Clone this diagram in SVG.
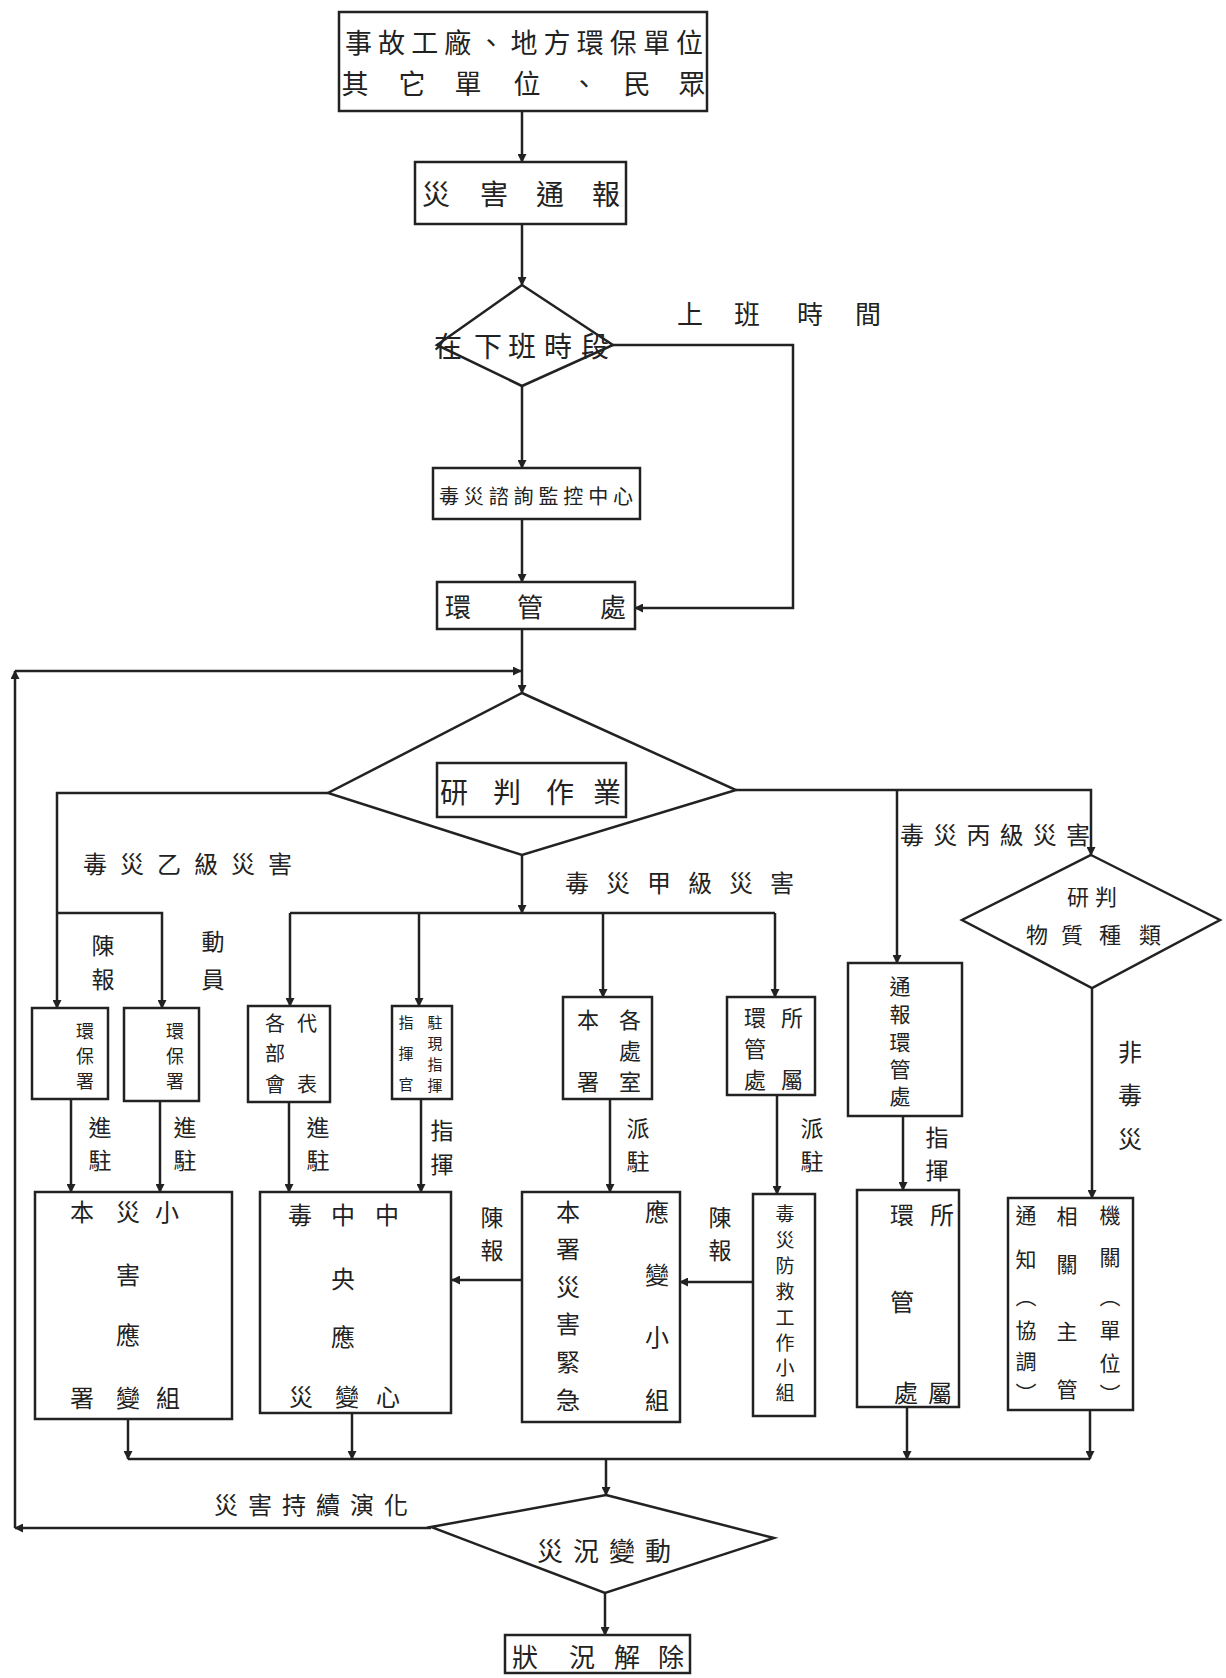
<svg xmlns="http://www.w3.org/2000/svg" width="1226" height="1678" viewBox="0 0 1226 1678">
<style>
.bx{fill:#fff;stroke:#222;stroke-width:2.5}
.ln{fill:none;stroke:#222;stroke-width:2.5}
.ar{fill:none;stroke:#222;stroke-width:2.5;marker-end:url(#ah)}
text{font-family:"Noto Sans CJK TC","Noto Sans CJK SC",sans-serif;fill:#222;dominant-baseline:central;text-anchor:middle}
.f30{font-size:30px}.f28{font-size:28px}.f27{font-size:27px}.f26{font-size:26px}.f24{font-size:24px}.f23{font-size:23px}.f22{font-size:22px}.f21{font-size:21px}.f20{font-size:20px}.f19{font-size:19px}.f18{font-size:18px}.f15{font-size:15px}
</style>
<defs>
<marker id="ah" markerWidth="9" markerHeight="9" refX="8" refY="4.5" orient="auto" markerUnits="userSpaceOnUse"><path d="M0,0 L9,4.5 L0,9 z" fill="#222"/></marker>
</defs>
<rect width="1226" height="1678" fill="#fff"/>

<g id="connectors">
<line class="ar" x1="522" y1="111" x2="522" y2="162"/>
<line class="ar" x1="522" y1="224" x2="522" y2="285"/>
<line class="ar" x1="522" y1="386" x2="522" y2="468"/>
<line class="ar" x1="522" y1="519" x2="522" y2="582"/>
<polyline class="ar" points="613,345 793,345 793,608 635,608"/>
<line class="ar" x1="522" y1="629" x2="522" y2="693"/>
<polyline class="ar" points="431,1528 15,1528"/>
<polyline class="ar" points="15,1528 15,671"/>
<polyline class="ar" points="15,671 521,671"/>
<polyline class="ar" points="328,793 57,793 57,1008"/>
<polyline class="ar" points="57,913 162,913 162,1008"/>
<line class="ar" x1="522" y1="855" x2="522" y2="913"/>
<line class="ln" x1="290" y1="913" x2="775" y2="913"/>
<line class="ar" x1="290" y1="913" x2="290" y2="1006"/>
<line class="ar" x1="419" y1="913" x2="419" y2="1006"/>
<line class="ar" x1="603" y1="913" x2="603" y2="997"/>
<line class="ar" x1="775" y1="913" x2="775" y2="997"/>
<polyline class="ar" points="736,790 1091,790 1091,855"/>
<line class="ar" x1="897" y1="790" x2="897" y2="963"/>
<line class="ar" x1="1092" y1="988" x2="1092" y2="1198"/>
<line class="ar" x1="71" y1="1099" x2="71" y2="1192"/>
<line class="ar" x1="160" y1="1101" x2="160" y2="1192"/>
<line class="ar" x1="289" y1="1102" x2="289" y2="1192"/>
<line class="ar" x1="421" y1="1099" x2="421" y2="1192"/>
<line class="ar" x1="610" y1="1099" x2="610" y2="1192"/>
<line class="ar" x1="777" y1="1095" x2="777" y2="1194"/>
<line class="ar" x1="522" y1="1280" x2="452" y2="1280"/>
<line class="ar" x1="753" y1="1282" x2="680" y2="1282"/>
<line class="ar" x1="903" y1="1116" x2="903" y2="1190"/>
<line class="ar" x1="128" y1="1419" x2="128" y2="1459"/>
<line class="ar" x1="352" y1="1413" x2="352" y2="1459"/>
<line class="ar" x1="907" y1="1407" x2="907" y2="1459"/>
<line class="ar" x1="1090" y1="1410" x2="1090" y2="1459"/>
<line class="ln" x1="128" y1="1459" x2="1090" y2="1459"/>
<line class="ar" x1="606" y1="1459" x2="606" y2="1495"/>
<line class="ar" x1="605" y1="1593" x2="605" y2="1635"/>
</g>

<g id="labels">
<text class="f26" x="690" y="312">上</text><text class="f26" x="747" y="312">班</text><text class="f26" x="810" y="312">時</text><text class="f26" x="868" y="312">間</text>
<text class="f24" x="83" y="862" textLength="209" lengthAdjust="spacing" style="text-anchor:start">毒災乙級災害</text>
<text class="f24" x="565" y="881" textLength="229" lengthAdjust="spacing" style="text-anchor:start">毒災甲級災害</text>
<text class="f24" x="900" y="833" textLength="190" lengthAdjust="spacing" style="text-anchor:start">毒災丙級災害</text>
<text class="f23" x="103" y="944">陳</text><text class="f23" x="103" y="978">報</text>
<text class="f23" x="213" y="940">動</text><text class="f23" x="213" y="978">員</text>
<text class="f23" x="100" y="1126">進</text><text class="f23" x="100" y="1159">駐</text>
<text class="f23" x="185" y="1126">進</text><text class="f23" x="185" y="1159">駐</text>
<text class="f23" x="318" y="1126">進</text><text class="f23" x="318" y="1159">駐</text>
<text class="f23" x="442" y="1129">指</text><text class="f23" x="442" y="1163">揮</text>
<text class="f23" x="638" y="1127">派</text><text class="f23" x="638" y="1160">駐</text>
<text class="f23" x="812" y="1127">派</text><text class="f23" x="812" y="1160">駐</text>
<text class="f23" x="492" y="1216">陳</text><text class="f23" x="492" y="1249">報</text>
<text class="f23" x="720" y="1216">陳</text><text class="f23" x="720" y="1249">報</text>
<text class="f23" x="937" y="1136">指</text><text class="f23" x="937" y="1169">揮</text>
<text class="f24" x="1130" y="1050">非</text><text class="f24" x="1130" y="1093">毒</text><text class="f24" x="1130" y="1137">災</text>
<text class="f24" x="214" y="1503" textLength="194" lengthAdjust="spacing" style="text-anchor:start">災害持續演化</text>
</g>

<g id="n_source">
<rect class="bx" x="339" y="12" width="368" height="99"/>
<text class="f27" x="345" y="41" textLength="358" lengthAdjust="spacing" style="text-anchor:start">事故工廠、地方環保單位</text>
<text class="f27" x="355" y="82">其</text><text class="f27" x="412" y="82">它</text><text class="f27" x="468" y="82">單</text><text class="f27" x="527" y="82">位</text><text class="f27" x="584" y="82">、</text><text class="f27" x="637" y="82">民</text><text class="f27" x="692" y="82">眾</text>
</g>

<g id="n_report">
<rect class="bx" x="415" y="162" width="211" height="62"/>
<text class="f28" x="436" y="193">災</text><text class="f28" x="494" y="193">害</text><text class="f28" x="550" y="193">通</text><text class="f28" x="606" y="193">報</text>
</g>

<g id="n_shift">
<polygon class="bx" points="522,285 613,345 522,386 437,345"/>
<text class="f28" x="448" y="345">在</text><text class="f28" x="488" y="345">下</text><text class="f28" x="522" y="345">班</text><text class="f28" x="558" y="345">時</text><text class="f28" x="595" y="345">段</text>
</g>

<g id="n_monitor">
<rect class="bx" x="433" y="468" width="207" height="51"/>
<text class="f20" x="439" y="495" textLength="194" lengthAdjust="spacing" style="text-anchor:start">毒災諮詢監控中心</text>
</g>

<g id="n_epb">
<rect class="bx" x="437" y="582" width="198" height="47"/>
<text class="f26" x="458" y="605">環</text><text class="f26" x="530" y="605">管</text><text class="f26" x="613" y="605">處</text>
</g>

<g id="n_judge">
<polygon class="bx" points="522,693 736,790 522,855 328,793"/>
<rect class="bx" x="437" y="763" width="189" height="54"/>
<text class="f28" x="454" y="791">研</text><text class="f28" x="507" y="791">判</text><text class="f28" x="560" y="791">作</text><text class="f28" x="607" y="791">業</text>
</g>

<g id="n_substance">
<polygon class="bx" points="1091,855 1220,920 1092,988 962,920"/>
<text class="f22" x="1078" y="895">研</text><text class="f22" x="1106" y="895">判</text>
<text class="f22" x="1037" y="933">物</text><text class="f22" x="1072" y="933">質</text><text class="f22" x="1110" y="933">種</text><text class="f22" x="1150" y="933">類</text>
</g>

<g id="n_epa1">
<rect class="bx" x="32" y="1008" width="76" height="91"/>
<text class="f18" x="85" y="1030">環</text><text class="f18" x="85" y="1055">保</text><text class="f18" x="85" y="1080">署</text>
</g>
<g id="n_epa2">
<rect class="bx" x="124" y="1008" width="75" height="93"/>
<text class="f18" x="175" y="1030">環</text><text class="f18" x="175" y="1055">保</text><text class="f18" x="175" y="1080">署</text>
</g>

<g id="n_rep">
<rect class="bx" x="248" y="1006" width="82" height="96"/>
<text class="f20" x="275" y="1022">各</text><text class="f20" x="307" y="1022">代</text><text class="f20" x="275" y="1052">部</text><text class="f20" x="275" y="1083">會</text><text class="f20" x="307" y="1083">表</text>
</g>

<g id="n_cmd">
<rect class="bx" x="392" y="1006" width="60" height="93"/>
<text class="f15" x="406" y="1021">指</text><text class="f15" x="406" y="1052">揮</text><text class="f15" x="406" y="1083">官</text>
<text class="f15" x="435" y="1021">駐</text><text class="f15" x="435" y="1042">現</text><text class="f15" x="435" y="1063">指</text><text class="f15" x="435" y="1084">揮</text>
</g>

<g id="n_dept">
<rect class="bx" x="563" y="997" width="89" height="102"/>
<text class="f22" x="588" y="1018">本</text><text class="f22" x="630" y="1018">各</text><text class="f22" x="630" y="1049">處</text><text class="f22" x="588" y="1080">署</text><text class="f22" x="630" y="1080">室</text>
</g>

<g id="n_bureau1">
<rect class="bx" x="727" y="997" width="88" height="98"/>
<text class="f22" x="755" y="1016">環</text><text class="f22" x="792" y="1016">所</text><text class="f22" x="755" y="1047">管</text><text class="f22" x="755" y="1078">處</text><text class="f22" x="792" y="1078">屬</text>
</g>

<g id="n_notify">
<rect class="bx" x="848" y="963" width="114" height="153"/>
<text class="f21" x="900" y="985">通</text><text class="f21" x="900" y="1013">報</text><text class="f21" x="900" y="1041">環</text><text class="f21" x="900" y="1068">管</text><text class="f21" x="900" y="1095">處</text>
</g>

<g id="n_local">
<rect class="bx" x="35" y="1192" width="197" height="227"/>
<text class="f24" x="82" y="1210">本</text><text class="f24" x="128" y="1210">災</text><text class="f24" x="167" y="1210">小</text>
<text class="f24" x="128" y="1273">害</text><text class="f24" x="128" y="1333">應</text>
<text class="f24" x="82" y="1396">署</text><text class="f24" x="128" y="1396">變</text><text class="f24" x="168" y="1396">組</text>
</g>

<g id="n_central">
<rect class="bx" x="260" y="1192" width="191" height="221"/>
<text class="f24" x="300" y="1213">毒</text><text class="f24" x="343" y="1213">中</text><text class="f24" x="387" y="1213">中</text>
<text class="f24" x="343" y="1277">央</text><text class="f24" x="343" y="1335">應</text>
<text class="f24" x="301" y="1395">災</text><text class="f24" x="347" y="1395">變</text><text class="f24" x="388" y="1395">心</text>
</g>

<g id="n_emerg">
<rect class="bx" x="522" y="1192" width="158" height="230"/>
<text class="f24" x="568" y="1210">本</text><text class="f24" x="568" y="1247">署</text><text class="f24" x="568" y="1285">災</text><text class="f24" x="568" y="1322">害</text><text class="f24" x="568" y="1360">緊</text><text class="f24" x="568" y="1398">急</text>
<text class="f24" x="657" y="1210">應</text><text class="f24" x="657" y="1273">變</text><text class="f24" x="657" y="1335">小</text><text class="f24" x="657" y="1398">組</text>
</g>

<g id="n_team">
<rect class="bx" x="753" y="1194" width="62" height="222"/>
<text class="f19" x="785" y="1212">毒</text><text class="f19" x="785" y="1238">災</text><text class="f19" x="785" y="1264">防</text><text class="f19" x="785" y="1290">救</text><text class="f19" x="785" y="1316">工</text><text class="f19" x="785" y="1341">作</text><text class="f19" x="785" y="1366">小</text><text class="f19" x="785" y="1391">組</text>
</g>

<g id="n_bureau2">
<rect class="bx" x="857" y="1190" width="102" height="217"/>
<text class="f24" x="902" y="1213">環</text><text class="f24" x="942" y="1213">所</text>
<text class="f24" x="902" y="1300">管</text>
<text class="f24" x="906" y="1391">處</text><text class="f24" x="940" y="1391">屬</text>
</g>

<g id="n_agency">
<rect class="bx" x="1008" y="1198" width="125" height="212"/>
<text class="f21" x="1026" y="1214">通</text><text class="f21" x="1026" y="1258">知</text><text class="f21" x="1026" y="1295">︵</text><text class="f21" x="1026" y="1329">協</text><text class="f21" x="1026" y="1360">調</text><text class="f21" x="1026" y="1392">︶</text>
<text class="f21" x="1067" y="1215">相</text><text class="f21" x="1067" y="1263">關</text><text class="f21" x="1067" y="1330">主</text><text class="f21" x="1067" y="1388">管</text>
<text class="f21" x="1110" y="1214">機</text><text class="f21" x="1110" y="1256">關</text><text class="f21" x="1110" y="1295">︵</text><text class="f21" x="1110" y="1329">單</text><text class="f21" x="1110" y="1362">位</text><text class="f21" x="1110" y="1393">︶</text>
</g>

<g id="n_change">
<polygon class="bx" points="606,1495 774,1538 605,1593 431,1527"/>
<text class="f26" x="537" y="1549" textLength="134" lengthAdjust="spacing" style="text-anchor:start">災況變動</text>
</g>

<g id="n_end">
<rect class="bx" x="505" y="1635" width="185" height="38"/>
<text class="f26" x="525" y="1655">狀</text><text class="f26" x="582" y="1655">況</text><text class="f26" x="627" y="1655">解</text><text class="f26" x="671" y="1655">除</text>
</g>
</svg>
